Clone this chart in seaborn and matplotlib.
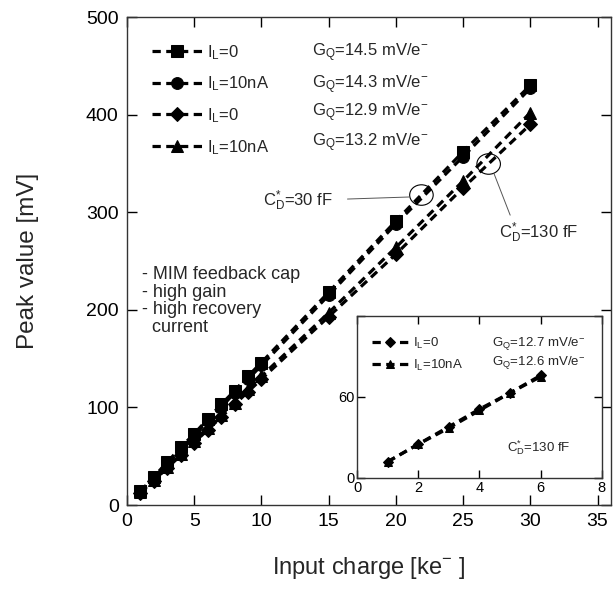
import numpy as np
import pandas as pd
import seaborn as sns
import matplotlib.pyplot as plt
from matplotlib.patches import Ellipse

# main plot: input charge [ke-] vs peak value [mV]
charge = [1, 2, 3, 4, 5, 6, 7, 8, 9, 10, 15, 20, 25, 30]
peak_sq = [14, 29, 44, 59, 73, 88, 103, 117, 132, 146, 218, 291, 362, 430]
peak_circ = [13, 28, 42, 57, 71, 86, 100, 115, 129, 143, 215, 288, 357, 427]
peak_diam = [12, 25, 38, 51, 64, 77, 90, 103, 116, 129, 193, 257, 325, 390]
peak_tri = [13, 26, 39, 52, 66, 79, 92, 105, 119, 132, 197, 264, 332, 402]
main_labels = ["I$_\\mathrm{L}$=0", "I$_\\mathrm{L}$=10nA", "I$_\\mathrm{L}$=0", "I$_\\mathrm{L}$=10nA"]
main_gains = ["14.5", "14.3", "12.9", "13.2"]

# inset: C_D*=130 fF, low charge
inset_charge = [1, 2, 3, 4, 5, 6]
inset_diam = [12, 25, 38, 51, 63, 76]
inset_tri = [12, 25, 37, 50, 63, 75]
inset_labels = ["I$_\\mathrm{L}$=0", "I$_\\mathrm{L}$=10nA"]
inset_gains = ["12.7", "12.6"]

sns.set_theme(style="ticks")
plt.rcParams["font.family"] = ["Liberation Sans", "DejaVu Sans"]
plt.rcParams["mathtext.fontset"] = "custom"
plt.rcParams["mathtext.rm"] = "Liberation Sans"
plt.rcParams["mathtext.it"] = "Liberation Sans:italic"

df = pd.DataFrame({"charge": charge, "sq": peak_sq, "circ": peak_circ,
                   "diam": peak_diam, "tri": peak_tri})
df_in = pd.DataFrame({"charge": inset_charge, "diam": inset_diam, "tri": inset_tri})

fig = plt.figure(figsize=(6.15, 5.89), dpi=100)
ax = fig.add_axes([0.2065, 0.1426, 0.787, 0.8285])

dash = (0, (2.6, 1.7))
series = [("sq", "s"), ("circ", "o"), ("diam", "D"), ("tri", "^")]
for col, mk in series:
    ms = 7 if mk == "D" else 8.5
    sns.lineplot(data=df, x="charge", y=col, ax=ax, color="black", marker=mk,
                 markersize=ms, markeredgecolor="black", linewidth=2.3,
                 linestyle=dash)

ax.set_xlim(0, 36)
ax.set_ylim(0, 500)
ax.set_xticks(range(0, 36, 5))
ax.set_yticks(range(0, 501, 100))
ax.tick_params(direction="in", length=7, width=1, top=True, right=True,
               labelsize=14, colors="black", pad=6)
ax.tick_params(labeltop=False, labelright=False)
for sp in ax.spines.values():
    sp.set_linewidth(1.0)
    sp.set_color("#333333")
ax.set_xlabel("Input charge [ke$^{-}$ ]", fontsize=17, labelpad=18)
ax.set_ylabel("Peak value [mV]", fontsize=17.5, labelpad=34)

lines = ax.get_lines()[:4]
ax.legend(lines, main_labels, loc="upper left", bbox_to_anchor=(0.052, 0.947),
          frameon=False, fontsize=12, handlelength=3.0, handletextpad=0.3,
          labelspacing=0.78, borderpad=0, borderaxespad=0)
gq_y = [0.926, 0.862, 0.803, 0.742]
for g, yy in zip(main_gains, gq_y):
    ax.text(0.382, yy, "G$_\\mathrm{Q}$=" + g + " mV/e$^{-}$", transform=ax.transAxes,
            fontsize=12, va="center", ha="left")

ax.text(1.1, 245, "- MIM feedback cap\n- high gain\n- high recovery\n  current",
        fontsize=13, va="top", ha="left", linespacing=1.05)

# annotations with circles
ax.add_patch(Ellipse((21.9, 317.6), 1.75, 21, fill=False, edgecolor="black", linewidth=0.8))
ax.plot([16.4, 21.0], [313.5, 315.6], color="#555555", linewidth=0.7)
ax.text(10.1, 312, "C$_\\mathrm{D}^{*}$=30 fF", fontsize=12, va="center", ha="left")

ax.add_patch(Ellipse((26.9, 349.4), 1.75, 21, fill=False, edgecolor="black", linewidth=0.8))
ax.plot([27.3, 28.5], [339.5, 297], color="#555555", linewidth=0.7)
ax.text(27.7, 279, "C$_\\mathrm{D}^{*}$=130 fF", fontsize=12, va="center", ha="left")

# inset
axin = fig.add_axes([0.5805, 0.1885, 0.398, 0.275])
for col, mk in [("diam", "D"), ("tri", "^")]:
    ms = 5 if mk == "D" else 6
    sns.lineplot(data=df_in, x="charge", y=col, ax=axin, color="black", marker=mk,
                 markersize=ms, markeredgecolor="black", linewidth=2.3,
                 linestyle=dash)
axin.set_xlim(0, 8)
axin.set_ylim(0, 120)
axin.set_xticks([0, 2, 4, 6, 8])
axin.set_yticks([0, 60, 120])
axin.set_yticklabels(["0", "60", ""])
axin.set_xlabel("")
axin.set_ylabel("")
axin.tick_params(direction="in", length=6, width=1, top=True, right=True,
                 labelsize=10.5, colors="black", pad=2)
for sp in axin.spines.values():
    sp.set_linewidth(1.0)
    sp.set_color("#333333")
in_lines = axin.get_lines()[:2]
axin.legend(in_lines, inset_labels, loc="upper left", bbox_to_anchor=(0.061, 0.88),
            frameon=False, fontsize=9.5, handlelength=2.8, handletextpad=0.3,
            labelspacing=0.55, borderpad=0, borderaxespad=0)
for g, yy in zip(inset_gains, [0.833, 0.71]):
    axin.text(0.551, yy, "G$_\\mathrm{Q}$=" + g + " mV/e$^{-}$", transform=axin.transAxes,
              fontsize=9.5, va="center", ha="left")
axin.text(0.612, 0.19, "C$_\\mathrm{D}^{*}$=130 fF", transform=axin.transAxes,
          fontsize=9.5, va="center", ha="left")

fig.savefig("out.png", dpi=100)
